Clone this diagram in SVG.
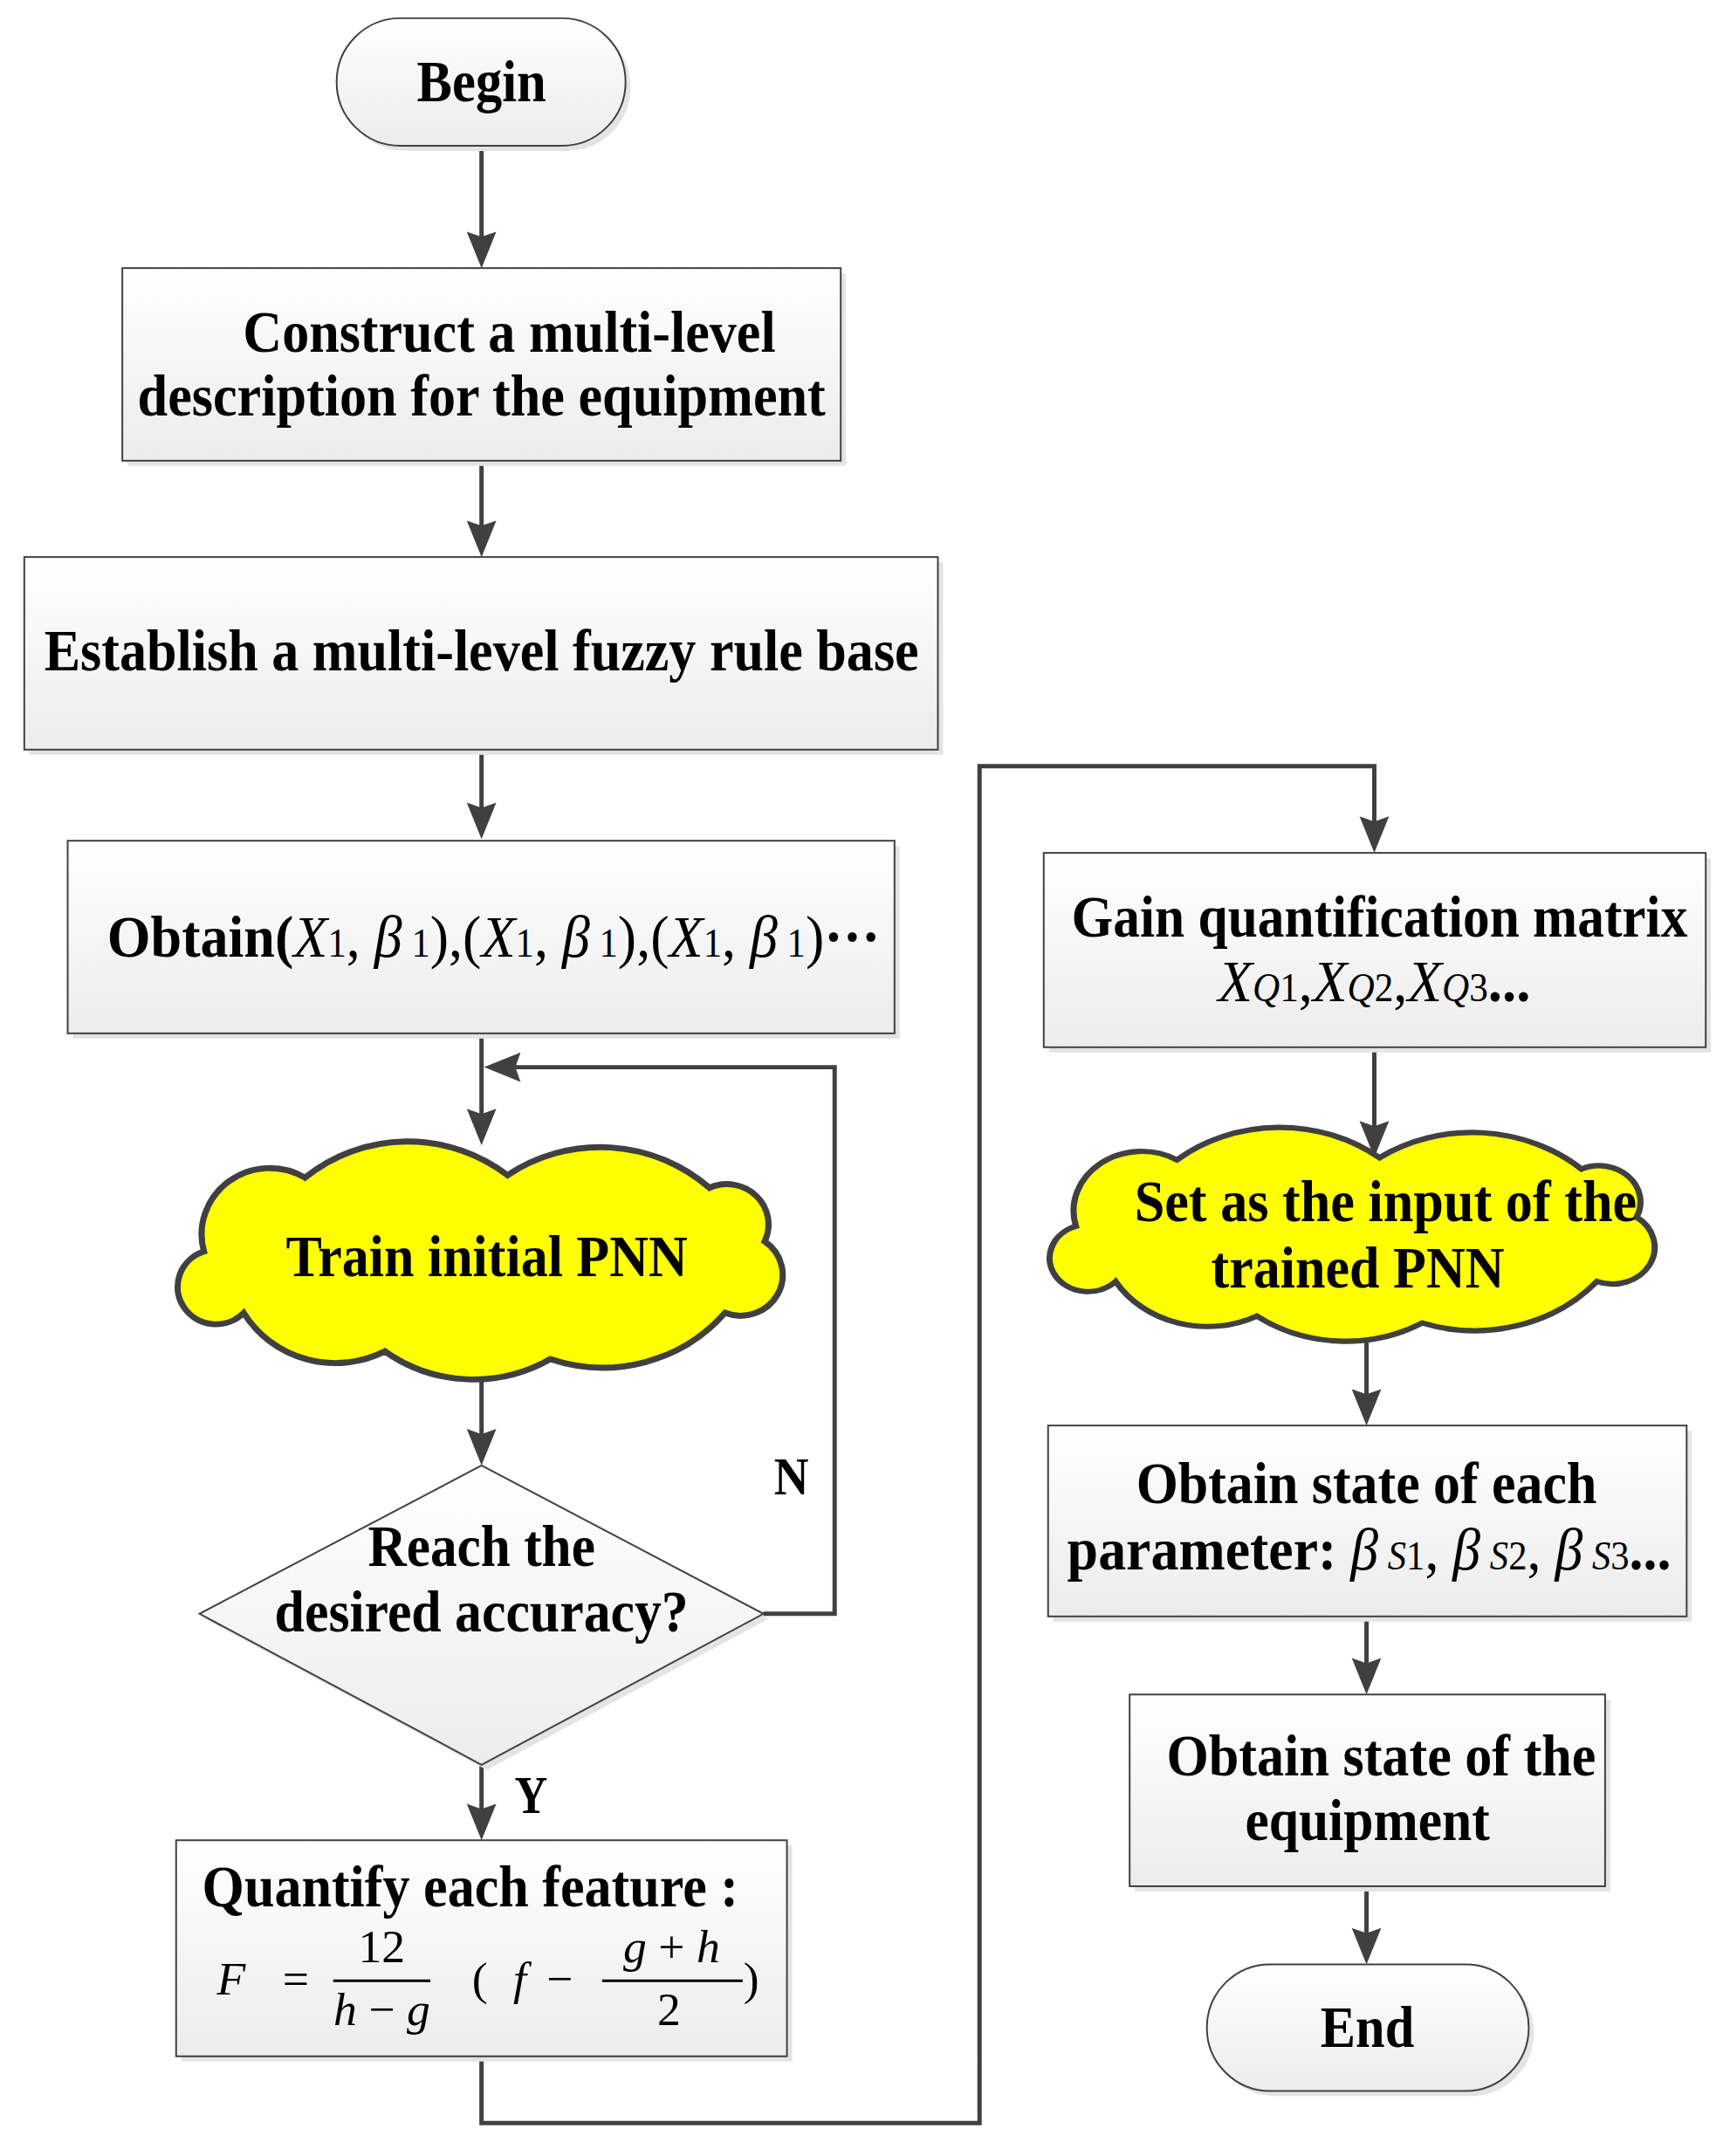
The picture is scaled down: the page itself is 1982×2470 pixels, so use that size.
<svg xmlns="http://www.w3.org/2000/svg" width="1982" height="2470" viewBox="0 0 1982 2470">
<defs>
<linearGradient id="g" x1="0" y1="0" x2="0" y2="1">
<stop offset="0" stop-color="#ffffff"/>
<stop offset="1" stop-color="#ececec"/>
</linearGradient>
<marker id="ah" markerUnits="userSpaceOnUse" viewBox="-40 -20 60 40" markerWidth="60" markerHeight="40" refX="0" refY="0" orient="auto" overflow="visible">
<path d="M-30,-17 L12,0 L-30,17 L-24,0 Z" fill="#404040"/>
</marker>
<path id="cloud" d="M208,64 A259,259 0 0 1 535,60 A263,263 0 0 1 861,81 A67,67 0 0 1 950,170 A68,68 0 0 1 886,289 A259,259 0 0 1 604,366 A243,243 0 0 1 337,353 A173,173 0 0 1 109,289 A62,62 0 1 1 45,187 A110,110 0 0 1 208,64 Z"/>
</defs>
<style>
.box{fill:url(#g);stroke:#404040;stroke-width:2}
.sh{fill:#e4e4e4}
.cl{fill:#ffff00;stroke:#404040;stroke-width:10;vector-effect:non-scaling-stroke}
.con{fill:none;stroke:#404040;stroke-width:5;marker-end:url(#ah)}
text{font-family:"Liberation Serif","Times New Roman",serif;fill:#000}
.t{font-size:69px;font-weight:bold}
.c{text-anchor:middle}
.i{font-style:italic;font-weight:normal}
.r{font-weight:normal}
.s{font-size:46px;font-weight:normal}
.si{font-size:46px;font-weight:normal;font-style:italic}
.m{font-size:54px;font-weight:normal}
.mi{font-size:54px;font-weight:normal;font-style:italic}
.lb{font-size:62px;font-weight:bold}
</style>
<rect width="1982" height="2470" fill="#ffffff"/>
<g transform="scale(0.994)">
<g id="connectors">
<path class="con" d="M555,168 V297"/>
<path class="con" d="M555,531 V630"/>
<path class="con" d="M555,864 V955"/>
<path class="con" d="M555,1191 V1308"/>
<path class="con" d="M880,1860 H962 V1230 H570"/>
<path class="con" d="M555,1590 V1677"/>
<path class="con" d="M555,2034 V2109"/>
<path class="con" d="M555,2370 V2447 H1129 V883 H1584 V971"/>
<path class="con" d="M1584,1207 V1322"/>
<path class="con" d="M1575,1546 V1631"/>
<path class="con" d="M1575,1863 V1941"/>
<path class="con" d="M1575,2174 V2252"/>
<text class="lb c" x="912" y="1722" textLength="40" lengthAdjust="spacingAndGlyphs">N</text>
<text class="lb c" x="612" y="2090" textLength="38" lengthAdjust="spacingAndGlyphs">Y</text>
</g>

<g id="begin">
<rect class="sh" x="394" y="27" width="333" height="147" rx="73.5"/>
<rect class="box" x="388" y="21" width="333" height="147" rx="73.5"/>
<text class="t c" x="555" y="117" textLength="149" lengthAdjust="spacingAndGlyphs">Begin</text>
</g>

<g id="construct">
<rect class="sh" x="147" y="315" width="828" height="222"/>
<rect class="box" x="141" y="309" width="828" height="222"/>
<text class="t c" x="587" y="405" textLength="614" lengthAdjust="spacingAndGlyphs">Construct a multi-level</text>
<text class="t c" x="555" y="479" textLength="793" lengthAdjust="spacingAndGlyphs">description for the equipment</text>
</g>

<g id="establish">
<rect class="sh" x="34" y="648" width="1053" height="222"/>
<rect class="box" x="28" y="642" width="1053" height="222"/>
<text class="t c" x="555" y="773" textLength="1008" lengthAdjust="spacingAndGlyphs">Establish a multi-level fuzzy rule base</text>
</g>

<g id="obtain">
<rect class="sh" x="84" y="975" width="953" height="222"/>
<rect class="box" x="78" y="969" width="953" height="222"/>
<text class="t c" x="569" y="1103" textLength="891" lengthAdjust="spacingAndGlyphs">Obtain(<tspan class="i">X</tspan><tspan class="s">1</tspan><tspan class="r">, </tspan><tspan class="i">β</tspan><tspan class="s"> 1</tspan><tspan class="r">),(</tspan><tspan class="i">X</tspan><tspan class="s">1</tspan><tspan class="r">, </tspan><tspan class="i">β</tspan><tspan class="s"> 1</tspan><tspan class="r">),(</tspan><tspan class="i">X</tspan><tspan class="s">1</tspan><tspan class="r">, </tspan><tspan class="i">β</tspan><tspan class="s"> 1</tspan><tspan class="r">)</tspan>···</text>
</g>

<g id="train">
<use href="#cloud" class="cl" transform="translate(203,1313) scale(0.714,0.6925)"/>
<text class="t c" x="561" y="1471" textLength="463" lengthAdjust="spacingAndGlyphs">Train initial PNN</text>
</g>

<g id="decision">
<polygon class="sh" points="561,1695 886,1866 561,2040 236,1866"/>
<polygon class="box" points="555,1689 880,1860 555,2034 230,1860"/>
<text class="t c" x="555" y="1805" textLength="262" lengthAdjust="spacingAndGlyphs">Reach the</text>
<text class="t c" x="555" y="1880" textLength="477" lengthAdjust="spacingAndGlyphs">desired accuracy?</text>
</g>

<g id="quantify">
<rect class="sh" x="209" y="2127" width="704" height="249"/>
<rect class="box" x="203" y="2121" width="704" height="249"/>
<text class="t" x="233" y="2197" textLength="618" lengthAdjust="spacingAndGlyphs">Quantify each feature :</text>
<text class="mi" x="250" y="2299">F</text>
<text class="m c" x="341" y="2299">=</text>
<line x1="384" y1="2283" x2="496" y2="2283" stroke="#000" stroke-width="3"/>
<text class="m c" x="440" y="2262">12</text>
<text class="m c" x="440" y="2334"><tspan class="mi">h</tspan> − <tspan class="mi">g</tspan></text>
<text class="m c" x="553" y="2299">(</text>
<text class="mi c" x="599" y="2299">f</text>
<text class="m c" x="645" y="2299">−</text>
<line x1="694" y1="2283" x2="856" y2="2283" stroke="#000" stroke-width="3"/>
<text class="m c" x="774" y="2262"><tspan class="mi">g</tspan> + <tspan class="mi">h</tspan></text>
<text class="m c" x="771" y="2334">2</text>
<text class="m c" x="866" y="2299">)</text>
</g>

<g id="gain">
<rect class="sh" x="1209" y="989" width="763" height="224"/>
<rect class="box" x="1203" y="983" width="763" height="224"/>
<text class="t c" x="1590" y="1079" textLength="710" lengthAdjust="spacingAndGlyphs">Gain quantification matrix</text>
<text class="t c" x="1584" y="1154" textLength="360" lengthAdjust="spacingAndGlyphs"><tspan class="i">X</tspan><tspan class="si">Q</tspan><tspan class="s">1</tspan><tspan class="r">,</tspan><tspan class="i">X</tspan><tspan class="si">Q</tspan><tspan class="s">2</tspan><tspan class="r">,</tspan><tspan class="i">X</tspan><tspan class="si">Q</tspan><tspan class="s">3</tspan>...</text>
</g>

<g id="setinput">
<use href="#cloud" class="cl" transform="translate(1208,1297) scale(0.714,0.6225)"/>
<text class="t c" x="1597" y="1407" textLength="579" lengthAdjust="spacingAndGlyphs">Set as the input of the</text>
<text class="t c" x="1565" y="1484" textLength="338" lengthAdjust="spacingAndGlyphs">trained PNN</text>
</g>

<g id="paramstate">
<rect class="sh" x="1214" y="1649" width="736" height="220"/>
<rect class="box" x="1208" y="1643" width="736" height="220"/>
<text class="t c" x="1575" y="1732" textLength="531" lengthAdjust="spacingAndGlyphs">Obtain state of each</text>
<text class="t c" x="1578" y="1809" textLength="696" lengthAdjust="spacingAndGlyphs">parameter: <tspan class="i">β</tspan><tspan class="si"> S</tspan><tspan class="s">1</tspan><tspan class="r">, </tspan><tspan class="i">β</tspan><tspan class="si"> S</tspan><tspan class="s">2</tspan><tspan class="r">, </tspan><tspan class="i">β</tspan><tspan class="si"> S</tspan><tspan class="s">3</tspan>...</text>
</g>

<g id="equipstate">
<rect class="sh" x="1308" y="1959" width="548" height="221"/>
<rect class="box" x="1302" y="1953" width="548" height="221"/>
<text class="t c" x="1592" y="2046" textLength="495" lengthAdjust="spacingAndGlyphs">Obtain state of the</text>
<text class="t c" x="1576" y="2121" textLength="282" lengthAdjust="spacingAndGlyphs">equipment</text>
</g>

<g id="end">
<rect class="sh" x="1397" y="2270" width="371" height="146" rx="73"/>
<rect class="box" x="1391" y="2264" width="371" height="146" rx="73"/>
<text class="t c" x="1576" y="2359" textLength="108" lengthAdjust="spacingAndGlyphs">End</text>
</g>
</g>
</svg>
